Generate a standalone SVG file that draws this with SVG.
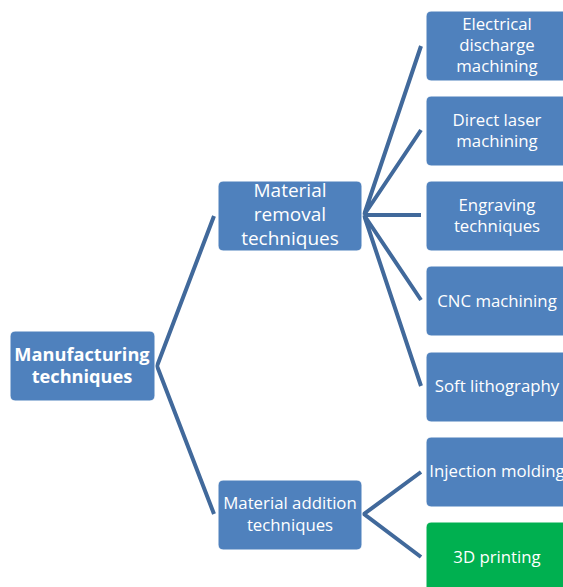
<svg xmlns="http://www.w3.org/2000/svg" width="563" height="587" viewBox="0 0 563 587">
  <style>
    .box { fill: #4F81BD; stroke: #ffffff; stroke-width: 1; }
    .green { fill: #00B050; stroke: #ffffff; stroke-width: 1; }
    .lbl { font-family: "Open Sans", "Liberation Sans", Arial, sans-serif; fill: #ffffff; text-anchor: middle; }
    .leaf { font-size: 16.8px; }
    .mid { font-size: 19px; }
    .root { font-size: 18.2px; font-weight: bold; }
    .conn { stroke: #41699B; stroke-width: 4; fill: none; stroke-linecap: butt; }
  </style>
  <rect width="563" height="587" fill="#ffffff"/>

  <g id="connectors">
    <path class="conn" d="M214,216 L157,366 L214,514"/>
    <path class="conn" d="M421,46 L364,215 L421,130 M364,215 L421,215 M421,300 L364,215 L421,386"/>
    <path class="conn" d="M421,472 L364,514 L421,557"/>
  </g>

  <g id="manufacturing">
    <rect class="box" x="10" y="331" width="145" height="70" rx="5"/>
    <text class="lbl root" x="82" y="361">Manufacturing</text>
    <text class="lbl root" x="82" y="383">techniques</text>
  </g>

  <g id="removal">
    <rect class="box" x="218" y="181" width="144" height="70" rx="5"/>
    <text class="lbl mid" x="290" y="197">Material</text>
    <text class="lbl mid" x="290" y="221">removal</text>
    <text class="lbl mid" x="290" y="245">techniques</text>
  </g>

  <g id="addition">
    <rect class="box" x="218" y="480" width="144" height="70" rx="5"/>
    <text class="lbl leaf" x="290" y="509">Material addition</text>
    <text class="lbl leaf" x="290" y="531">techniques</text>
  </g>

  <g id="edm">
    <rect class="box" x="426" y="11" width="144" height="70" rx="5"/>
    <text class="lbl leaf" x="497" y="30">Electrical</text>
    <text class="lbl leaf" x="497" y="51">discharge</text>
    <text class="lbl leaf" x="497" y="72">machining</text>
  </g>

  <g id="laser">
    <rect class="box" x="426" y="96" width="144" height="70" rx="5"/>
    <text class="lbl leaf" x="497" y="126">Direct laser</text>
    <text class="lbl leaf" x="497" y="147">machining</text>
  </g>

  <g id="engraving">
    <rect class="box" x="426" y="181" width="144" height="70" rx="5"/>
    <text class="lbl leaf" x="497" y="211">Engraving</text>
    <text class="lbl leaf" x="497" y="232">techniques</text>
  </g>

  <g id="cnc">
    <rect class="box" x="426" y="266" width="144" height="70" rx="5"/>
    <text class="lbl leaf" x="497" y="307">CNC machining</text>
  </g>

  <g id="softlitho">
    <rect class="box" x="426" y="352" width="144" height="70" rx="5"/>
    <text class="lbl leaf" x="497" y="392">Soft lithography</text>
  </g>

  <g id="injection">
    <rect class="box" x="426" y="437" width="144" height="70" rx="5"/>
    <text class="lbl leaf" x="497" y="477">Injection molding</text>
  </g>

  <g id="printing3d">
    <rect class="green" x="426" y="522" width="144" height="70" rx="5"/>
    <text class="lbl leaf" x="497" y="563">3D printing</text>
  </g>
</svg>
